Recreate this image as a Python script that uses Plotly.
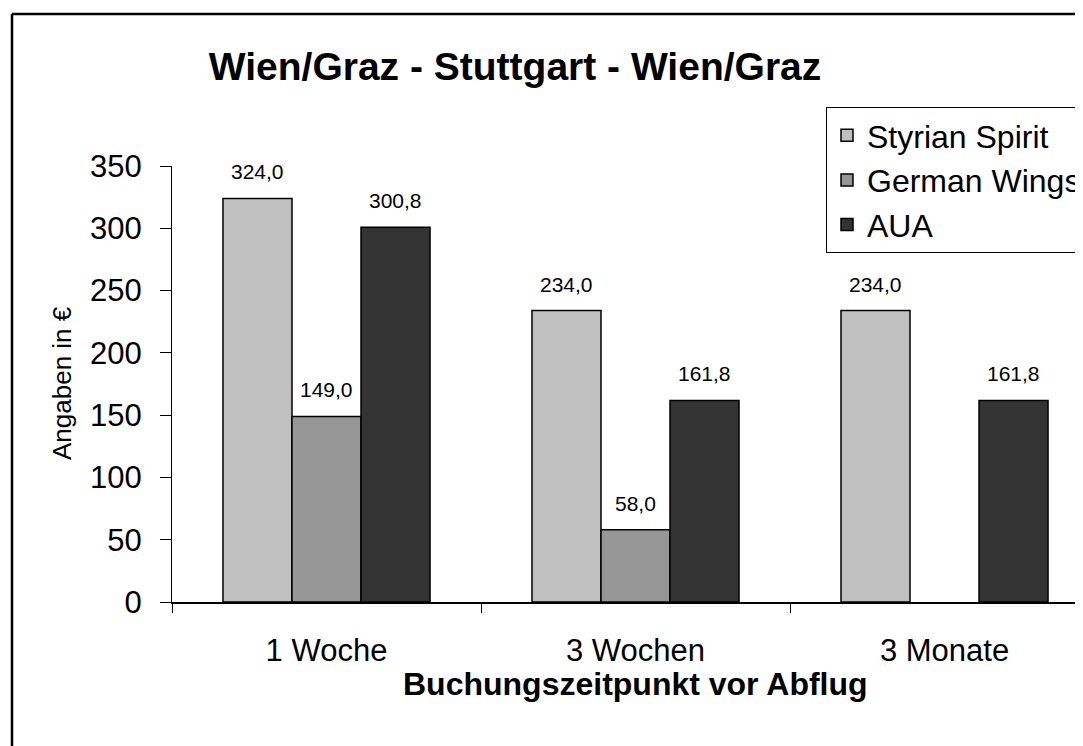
import plotly.graph_objects as go

categories = ["1 Woche", "3 Wochen", "3 Monate"]
series_names = ["Styrian Spirit", "German Wings", "AUA"]
styrian_spirit = [324.0, 234.0, 234.0]
german_wings = [149.0, 58.0, None]
aua = [300.8, 161.8, 161.8]
series_values = [styrian_spirit, german_wings, aua]
series_colors = ["#C0C0C0", "#969696", "#333333"]
y_ticks = [0, 50, 100, 150, 200, 250, 300, 350]

PAGE_W, PAGE_H = 1083, 746
BODY = 8  # default browser body margin
W, H = PAGE_W - BODY, PAGE_H - BODY
# layout positions measured in page pixels
PLOT_LEFT, PLOT_TOP, PLOT_BOTTOM = 172, 166, 602
L = PLOT_LEFT - BODY
T = PLOT_TOP - BODY
B = H - (PLOT_BOTTOM - BODY)
CAT_PX = 309  # pixel width of one category in the original
BARGAP = 0.33
FONT = "Arial, Liberation Sans, sans-serif"

plot_w = W - L
plot_h = H - T - B

def px_x(p):
    return (p - PLOT_LEFT) / plot_w

def px_y(p):
    return (PLOT_BOTTOM - p) / plot_h

fig = go.Figure()
for name, vals, col in zip(series_names, series_values, series_colors):
    fig.add_trace(go.Bar(
        name=name, x=categories, y=vals,
        marker=dict(color=col, line=dict(color="black", width=1.5)),
    ))

# value labels above bars
bw = (1 - BARGAP) / len(series_names)
for i, vals in enumerate(series_values):
    off = (i - (len(series_names) - 1) / 2) * bw
    for j, v in enumerate(vals):
        if v is None:
            continue
        fig.add_annotation(
            x=j + off, y=v, xref="x", yref="y",
            text=f"{v:.1f}".replace(".", ","),
            showarrow=False, yanchor="bottom", yshift=13,
            font=dict(family=FONT, size=21, color="black"),
        )

# axis titles
fig.add_annotation(
    x=1, y=px_y(684), xref="x", yref="paper",
    text="<b>Buchungszeitpunkt vor Abflug</b>", showarrow=False,
    xanchor="center", yanchor="middle",
    font=dict(family=FONT, size=32, color="black"),
)
fig.add_annotation(
    x=px_x(62), y=px_y(383), xref="paper", yref="paper",
    text="Angaben in €", showarrow=False, textangle=-90,
    xanchor="center", yanchor="middle",
    font=dict(family=FONT, size=26, color="black"),
)

# outer chart border (left + top visible)
fig.add_shape(type="line", xref="paper", yref="paper",
              x0=px_x(12), x1=px_x(12), y0=px_y(PAGE_H), y1=px_y(14),
              line=dict(color="black", width=2.5))
fig.add_shape(type="line", xref="paper", yref="paper",
              x0=px_x(12), x1=px_x(PAGE_W), y0=px_y(14), y1=px_y(14),
              line=dict(color="black", width=2.5))

fig.update_layout(
    width=W, height=H,
    margin=dict(l=L, r=0, t=T, b=B, autoexpand=False),
    paper_bgcolor="white", plot_bgcolor="white",
    font=dict(family=FONT, color="black"),
    barmode="group", bargap=BARGAP, bargroupgap=0,
    title=dict(
        text="<b>Wien/Graz - Stuttgart - Wien/Graz</b>",
        x=(515 - BODY) / W, xref="container", xanchor="center",
        y=1 - (66 - BODY) / H, yref="container", yanchor="middle",
        font=dict(family=FONT, size=39, color="black"),
    ),
    legend=dict(
        x=px_x(826), y=px_y(107), xanchor="left", yanchor="top",
        bgcolor="white", bordercolor="black", borderwidth=1,
        font=dict(family=FONT, size=32, color="black"),
        traceorder="normal",
    ),
    showlegend=True,
)

fig.update_xaxes(
    type="category", categoryorder="array", categoryarray=categories,
    range=[-0.5, -0.5 + plot_w / CAT_PX],
    showline=True, linecolor="black", linewidth=1.5,
    ticks="outside", tickson="boundaries", ticklen=9, tickcolor="black", tickwidth=1,
    ticklabelstandoff=20,
    tickfont=dict(family=FONT, size=31, color="black"),
    showgrid=False, zeroline=False, fixedrange=True,
)
fig.update_yaxes(
    range=[0, 350], tickmode="array", tickvals=y_ticks,
    showline=True, linecolor="black", linewidth=1,
    ticks="outside", ticklen=11, tickcolor="black", tickwidth=1,
    ticklabelstandoff=12,
    tickfont=dict(family=FONT, size=31, color="black"),
    showgrid=False, zeroline=False, fixedrange=True,
)

fig.write_html("out.html")
